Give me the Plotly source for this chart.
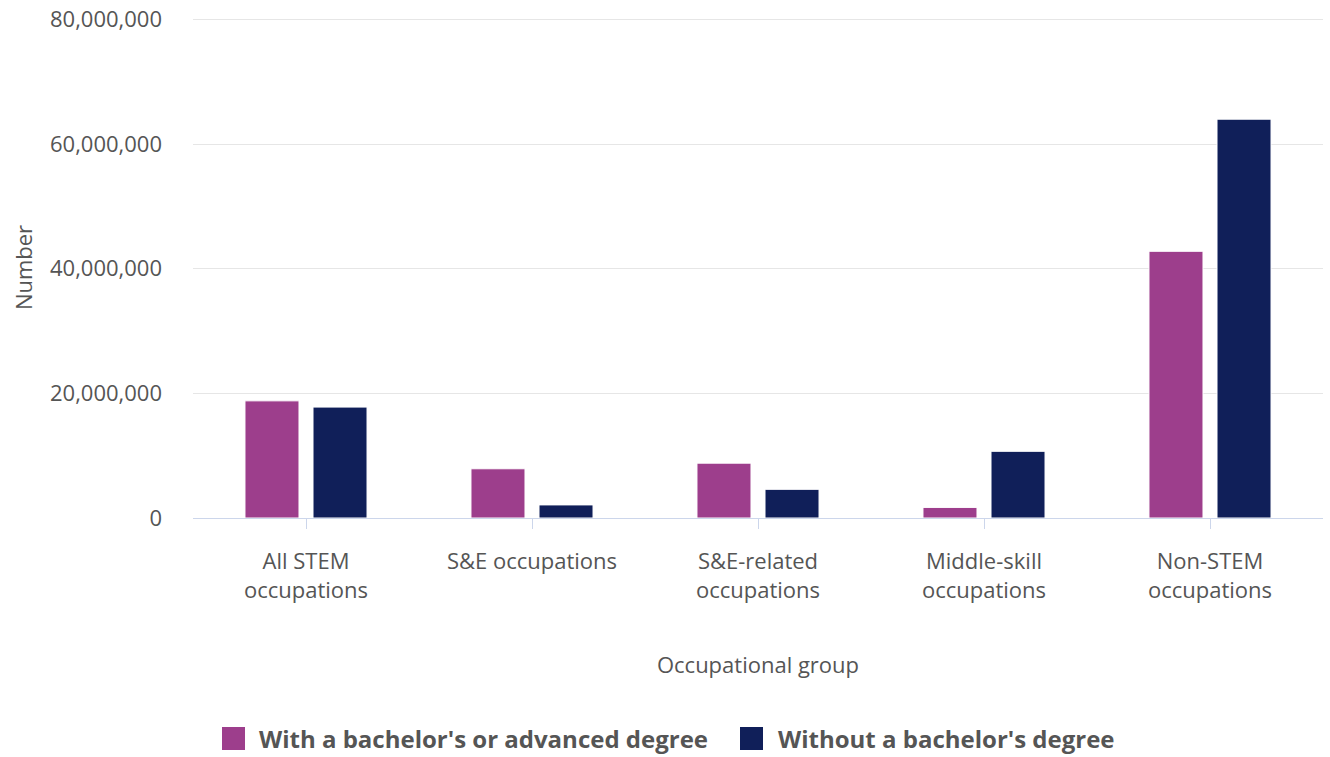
import plotly.graph_objects as go

categories = ["All STEM<br>occupations", "S&E occupations", "S&E-related<br>occupations",
              "Middle-skill<br>occupations", "Non-STEM<br>occupations"]
with_degree = [18800000, 7900000, 8800000, 1700000, 42800000]
without_degree = [17800000, 2100000, 4600000, 10700000, 64000000]
series_names = ["With a bachelor's or advanced degree", "Without a bachelor's degree"]
colors = ["#9d3e8c", "#101f59"]
y_ticks = [0, 20000000, 40000000, 60000000, 80000000]
y_tick_labels = ["0", "20,000,000", "40,000,000", "60,000,000", "80,000,000"]
y_max = 80400000

FONT = "Open Sans"
GREY = "#555555"

W, H = 1330, 757
L, R, T, B = 193, 7, 17, 239

fig = go.Figure()
for name, vals, col in zip(series_names, [with_degree, without_degree], colors):
    fig.add_trace(go.Bar(x=categories, y=vals, name=name,
                         marker=dict(color=col, line=dict(color="white", width=1)),
                         showlegend=False))

fig.update_layout(
    width=W, height=H,
    margin=dict(l=L, r=R, t=T, b=B, autoexpand=False),
    paper_bgcolor="white", plot_bgcolor="white",
    barmode="group", bargap=0.398, bargroupgap=0.206,
    font=dict(family=FONT, color=GREY, size=22),
    xaxis=dict(
        automargin=False,
        showgrid=False, showline=True, linecolor="#ccd6eb", linewidth=1,
        ticks="outside", ticklen=10, tickcolor="#ccd6eb", tickwidth=1,
        ticklabelstandoff=14,
        tickfont=dict(family=FONT, size=22, color=GREY),
        title=dict(text="Occupational group", font=dict(family=FONT, size=22, color=GREY), standoff=54),
        fixedrange=True,
    ),
    yaxis=dict(
        automargin=False,
        range=[0, y_max], tickvals=y_ticks, ticktext=y_tick_labels,
        showgrid=True, gridcolor="#e6e6e6", gridwidth=1, zeroline=False,
        showline=False, ticks="", ticklabelstandoff=30, ticklabeloverflow="allow",
        tickfont=dict(family=FONT, size=22, color=GREY),
        title=dict(text="Number", font=dict(family=FONT, size=22, color=GREY), standoff=11),
    ),
)

# custom legend (larger square symbols like the reference); pixel helpers
plot_w = W - L - R
plot_h = H - T - B
def px_x(x):
    return (x - L) / plot_w
def px_y(y):
    return (H - B - y) / plot_h

legend_items = [(222, 257), (740, 776)]
for (sq_x, tx_x), name, col in zip(legend_items, series_names, colors):
    fig.add_shape(type="rect", xref="paper", yref="paper",
                  x0=px_x(sq_x), x1=px_x(sq_x + 23), y0=px_y(750), y1=px_y(727),
                  fillcolor=col, line=dict(width=0))
    fig.add_annotation(xref="paper", yref="paper", x=px_x(tx_x), y=px_y(738),
                       xanchor="left", yanchor="middle", showarrow=False,
                       text="<b>" + name + "</b>",
                       font=dict(family=FONT, size=24, color="#555555"))

fig.write_html("out.html", config={"displayModeBar": False},
               post_script="document.body.style.margin='0';document.body.style.overflow='hidden';")
